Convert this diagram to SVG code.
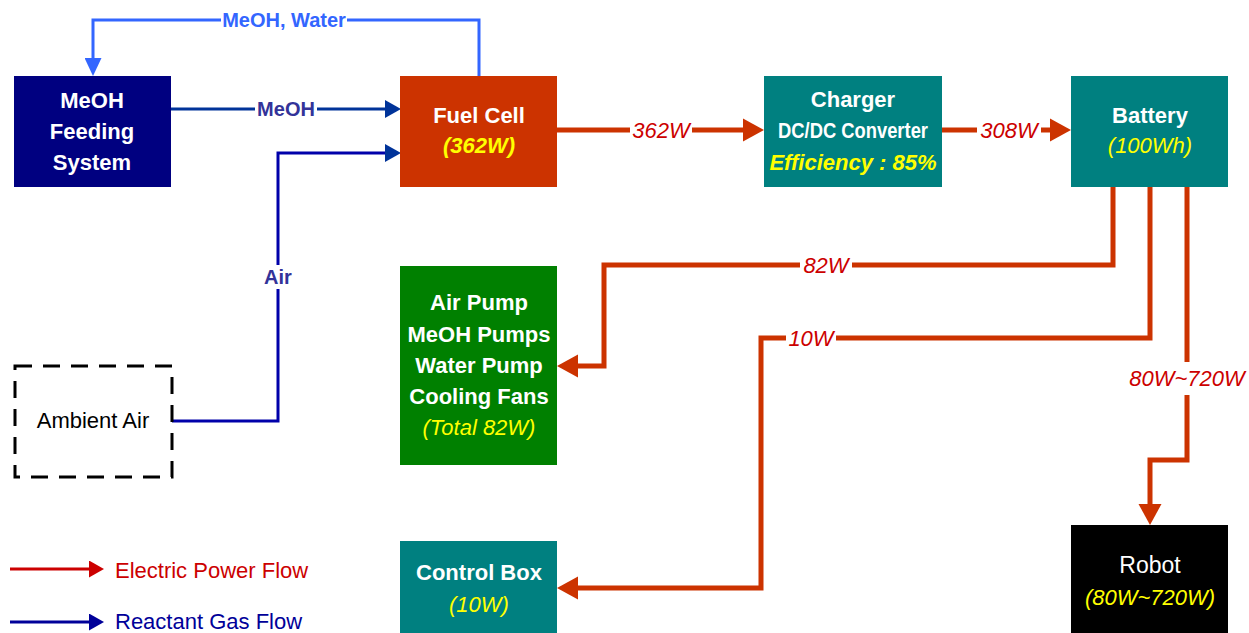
<svg xmlns="http://www.w3.org/2000/svg" width="1249" height="633" viewBox="0 0 1249 633">
<style>
text{font-family:"Liberation Sans",Arial,sans-serif;font-size:22px;text-anchor:middle}
.w{fill:#fff;font-weight:bold}
.wr{fill:#fff}
.y{fill:#ffff00;font-style:italic}
.yb{fill:#ffff00;font-style:italic;font-weight:bold}
.lbl{fill:#cc0000;font-style:italic}
.glbl{fill:#333399;font-weight:bold;font-size:20px}
.pw{fill:none;stroke:#cc3300;stroke-width:5;stroke-linejoin:miter}
.gas{fill:none;stroke:#003399;stroke-width:3}
.bg{fill:#fff}
</style>
<defs>
<marker id="ao" markerUnits="userSpaceOnUse" markerWidth="21" markerHeight="24" refX="0" refY="12" orient="auto"><path d="M0,0.5 L21,12 L0,23.5 z" fill="#cc3300"/></marker>
<marker id="ab" markerUnits="userSpaceOnUse" markerWidth="16" markerHeight="18" refX="0" refY="9" orient="auto"><path d="M0,0 L16,9 L0,18 z" fill="#003399"/></marker>
<marker id="al" markerUnits="userSpaceOnUse" markerWidth="18" markerHeight="17" refX="0" refY="8.5" orient="auto"><path d="M0,0 L18,8.5 L0,17 z" fill="#3366ff"/></marker>
<marker id="ar" markerUnits="userSpaceOnUse" markerWidth="15" markerHeight="17" refX="0" refY="8.5" orient="auto"><path d="M0,0 L15,8.5 L0,17 z" fill="#cc0000"/></marker>
<marker id="an" markerUnits="userSpaceOnUse" markerWidth="15" markerHeight="17" refX="0" refY="8.5" orient="auto"><path d="M0,0 L15,8.5 L0,17 z" fill="#000099"/></marker>
</defs>

<g id="connectors">
<path d="M479,76 V20 H93 V58" fill="none" stroke="#3366ff" stroke-width="3" marker-end="url(#al)"/>
<rect class="bg" x="221" y="9" width="126" height="22"/>
<text x="284" y="27" style="fill:#3366ff;font-weight:bold;font-size:20px">MeOH, Water</text>

<path class="gas" d="M171,109 H385" marker-end="url(#ab)"/>
<rect class="bg" x="255" y="98" width="62" height="22"/>
<text class="glbl" x="286" y="116">MeOH</text>

<path d="M172,421 H278 V153 H385" fill="none" stroke="#0000aa" stroke-width="3" marker-end="url(#ab)"/>
<rect class="bg" x="262" y="265" width="32" height="24"/>
<text class="glbl" x="278" y="284">Air</text>

<path class="pw" d="M557,130 H743" marker-end="url(#ao)"/>
<rect class="bg" x="630" y="118" width="62" height="24"/>
<text class="lbl" x="661" y="138">362W</text>

<path class="pw" d="M942,130 H1050" marker-end="url(#ao)"/>
<rect class="bg" x="977" y="118" width="64" height="24"/>
<text class="lbl" x="1009" y="138">308W</text>

<path class="pw" d="M1113,186 V265 H604 V366 H578" marker-end="url(#ao)"/>
<rect class="bg" x="800" y="253" width="52" height="24"/>
<text class="lbl" x="826" y="273">82W</text>

<path class="pw" d="M1150,186 V338 H761 V588 H578" marker-end="url(#ao)"/>
<rect class="bg" x="786" y="326" width="50" height="24"/>
<text class="lbl" x="811" y="346">10W</text>

<path class="pw" d="M1187,186 V460 H1150 V504" marker-end="url(#ao)"/>
<rect class="bg" x="1126" y="362" width="122" height="33"/>
<text class="lbl" x="1187" y="386">80W~720W</text>
</g>

<g id="meoh-feeding">
<rect x="14" y="76" width="157" height="111" fill="#000080"/>
<text class="w" x="92" y="108">MeOH</text>
<text class="w" x="92" y="139">Feeding</text>
<text class="w" x="92" y="170">System</text>
</g>

<g id="fuel-cell">
<rect x="400" y="76" width="157" height="111" fill="#cc3300"/>
<text class="w" x="479" y="123">Fuel Cell</text>
<text class="yb" x="479" y="153">(362W)</text>
</g>

<g id="charger">
<rect x="764" y="76" width="178" height="111" fill="#008080"/>
<text class="w" x="853" y="107">Charger</text>
<text class="w" x="853" y="138" textLength="150" lengthAdjust="spacingAndGlyphs">DC/DC Converter</text>
<text class="yb" x="853" y="170">Efficiency : 85%</text>
</g>

<g id="battery">
<rect x="1071" y="76" width="157" height="111" fill="#008080"/>
<text class="w" x="1150" y="123">Battery</text>
<text class="y" x="1150" y="153">(100Wh)</text>
</g>

<g id="pumps">
<rect x="400" y="266" width="157" height="199" fill="#008000"/>
<text class="w" x="479" y="310">Air Pump</text>
<text class="w" x="479" y="342">MeOH Pumps</text>
<text class="w" x="479" y="373">Water Pump</text>
<text class="w" x="479" y="404">Cooling Fans</text>
<text class="y" x="479" y="435">(Total 82W)</text>
</g>

<g id="ambient-air">
<rect x="15" y="366" width="157" height="111" fill="none" stroke="#000" stroke-width="3" stroke-dasharray="17 11"/>
<text x="93" y="428" style="fill:#000">Ambient Air</text>
</g>

<g id="control-box">
<rect x="400" y="541" width="157" height="95" fill="#008080"/>
<text class="w" x="479" y="580">Control Box</text>
<text class="y" x="479" y="612">(10W)</text>
</g>

<g id="robot">
<rect x="1071" y="525" width="157" height="111" fill="#000"/>
<text class="wr" x="1150" y="573" style="font-size:23px">Robot</text>
<text class="y" x="1150" y="605">(80W~720W)</text>
</g>

<g id="legend">
<path d="M10,569 H89" stroke="#cc0000" stroke-width="3" fill="none" marker-end="url(#ar)"/>
<text x="115" y="578" style="fill:#cc0000;text-anchor:start">Electric Power Flow</text>
<path d="M10,622 H89" stroke="#000099" stroke-width="3" fill="none" marker-end="url(#an)"/>
<text x="115" y="629" style="fill:#000099;text-anchor:start">Reactant Gas Flow</text>
</g>
</svg>
